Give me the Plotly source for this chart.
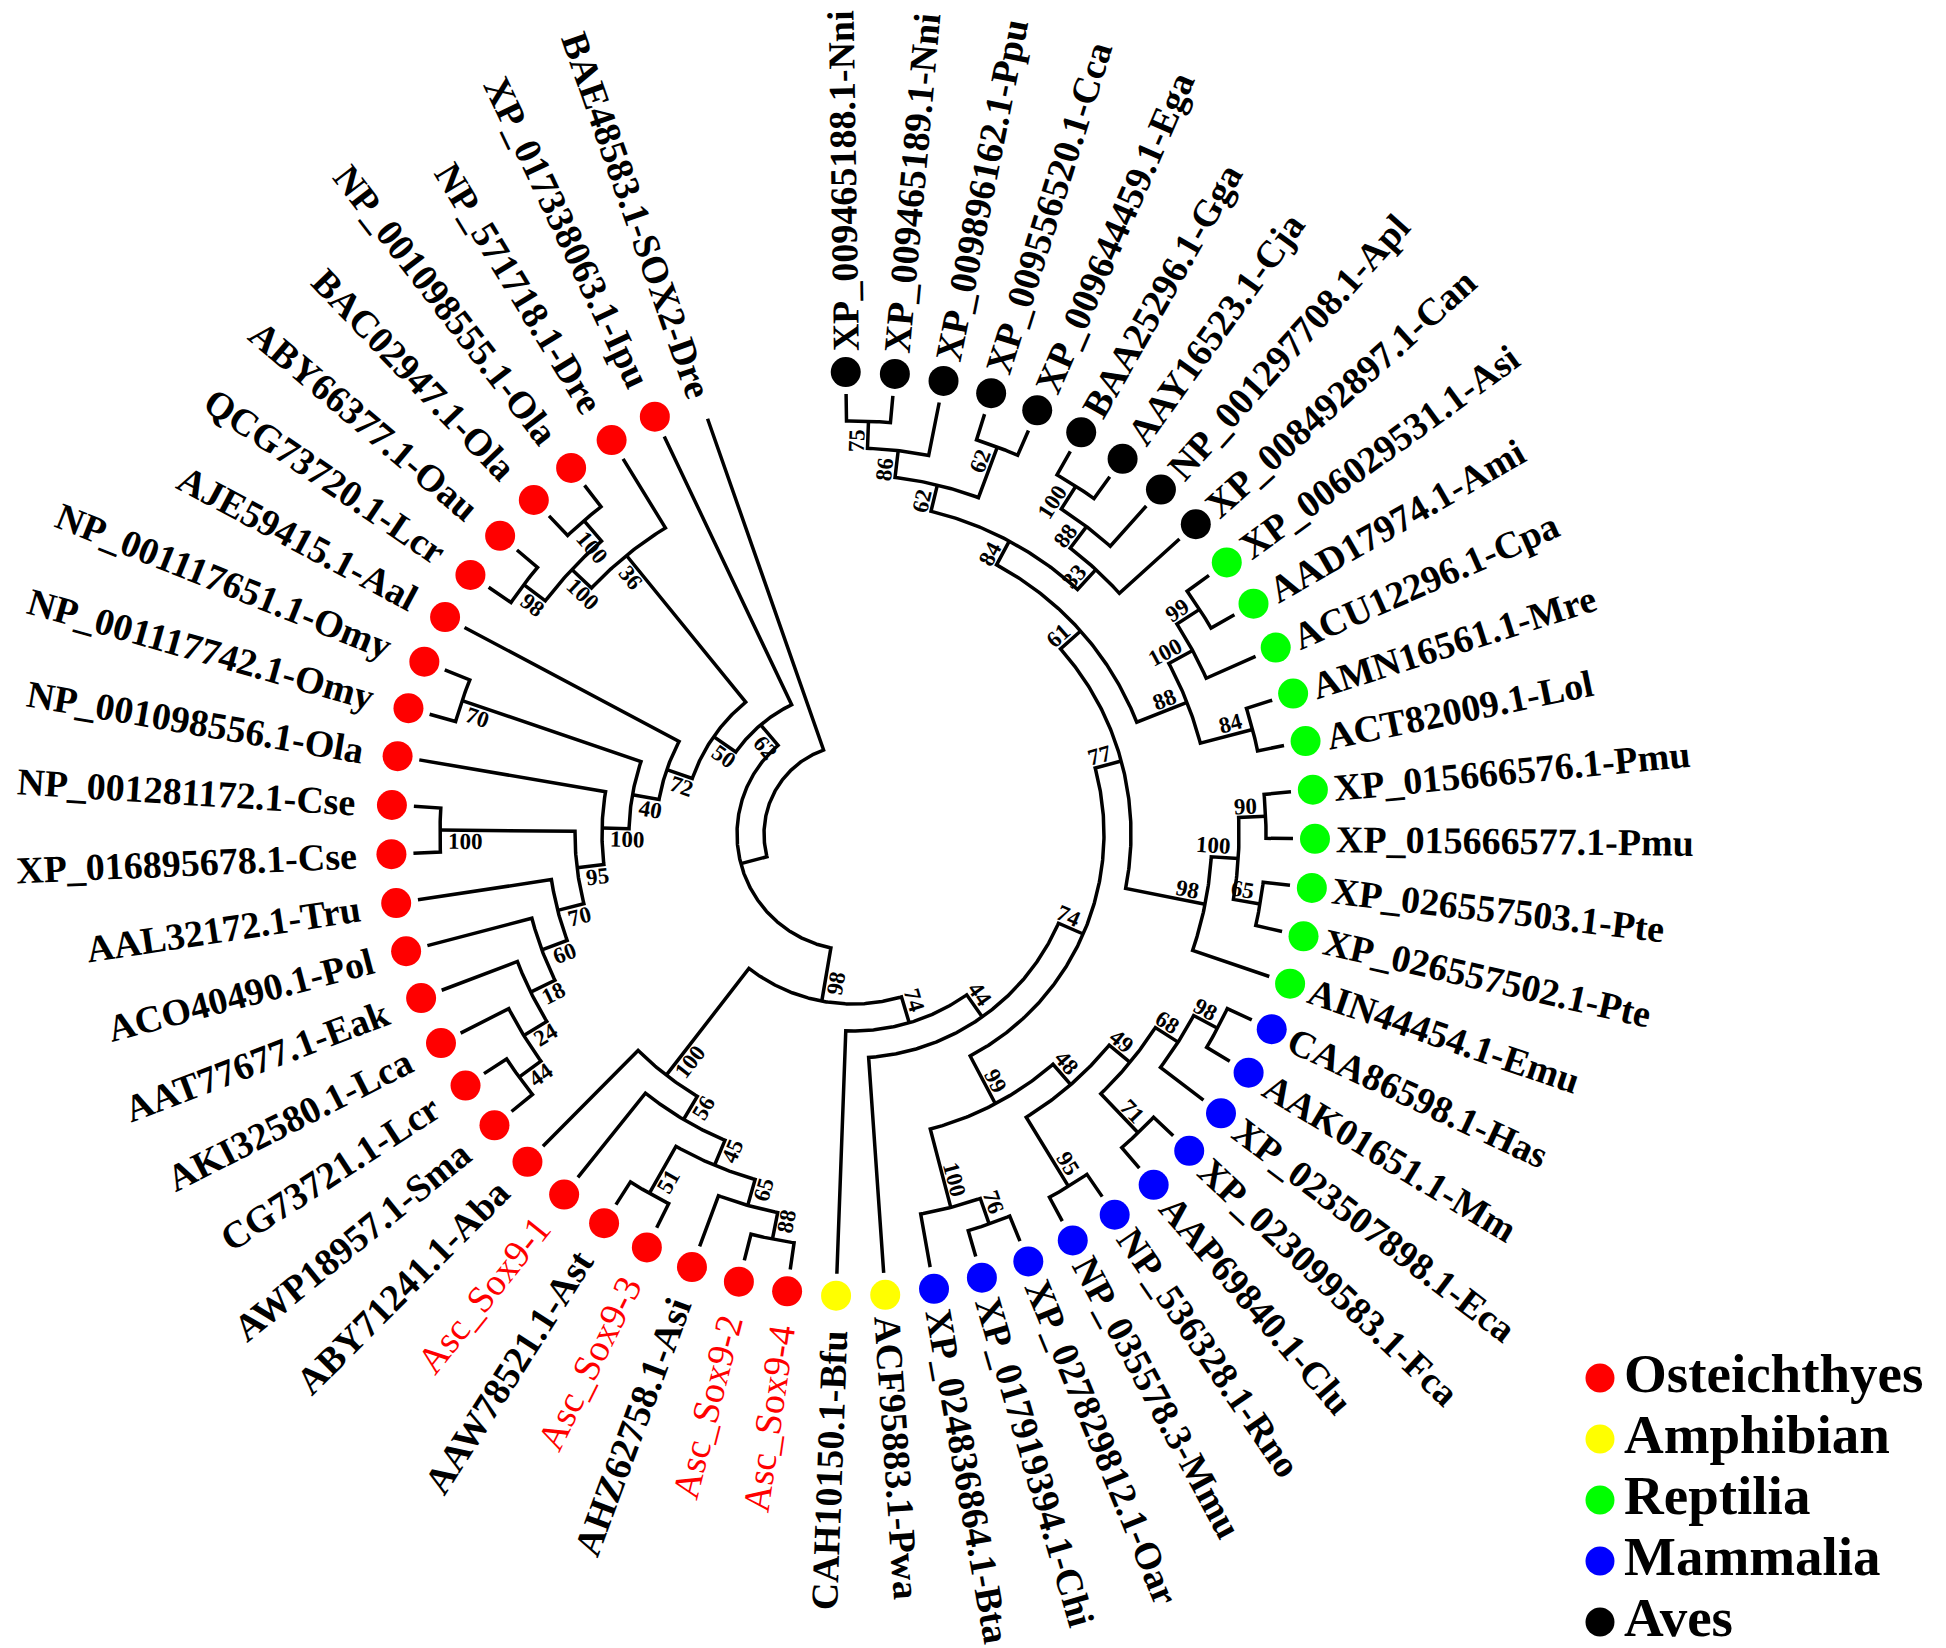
import math
import plotly.graph_objects as go

# ---------------- data ----------------
aves = ["XP_009465188.1-Nni", "XP_009465189.1-Nni", "XP_009896162.1-Ppu",
        "XP_009556520.1-Cca", "XP_009644459.1-Ega", "BAA25296.1-Gga",
        "AAY16523.1-Cja", "NP_001297708.1-Apl", "XP_008492897.1-Can"]
reptilia = ["XP_006029531.1-Asi", "AAD17974.1-Ami", "ACU12296.1-Cpa",
            "AMN16561.1-Mre", "ACT82009.1-Lol", "XP_015666576.1-Pmu",
            "XP_015666577.1-Pmu", "XP_026557503.1-Pte", "XP_026557502.1-Pte",
            "AIN44454.1-Emu"]
mammalia = ["CAA86598.1-Has", "AAK01651.1-Mm", "XP_023507898.1-Eca",
            "XP_023099583.1-Fca", "AAP69840.1-Clu", "NP_536328.1-Rno",
            "NP_035578.3-Mmu", "XP_027829812.1-Oar", "XP_017919394.1-Chi",
            "XP_024836864.1-Bta"]
amphibian = ["ACF95883.1-Pwa", "CAH10150.1-Bfu"]
osteichthyes = ["Asc_Sox9-4", "Asc_Sox9-2", "AHZ62758.1-Asi", "Asc_Sox9-3",
                "AAW78521.1-Ast", "Asc_Sox9-1", "ABY71241.1-Aba",
                "AWP18957.1-Sma", "CG73721.1-Lcr", "AKI32580.1-Lca",
                "AAT77677.1-Eak", "ACO40490.1-Pol", "AAL32172.1-Tru",
                "XP_016895678.1-Cse", "NP_001281172.1-Cse",
                "NP_001098556.1-Ola", "NP_001117742.1-Omy",
                "NP_001117651.1-Omy", "AJE59415.1-Aal", "QCG73720.1-Lcr",
                "ABY66377.1-Oau", "BAC02947.1-Ola", "NP_001098555.1-Ola",
                "NP_571718.1-Dre", "XP_017338063.1-Ipu"]
outgroup = ["BAE48583.1-SOX2-Dre"]
study_genes = ["Asc_Sox9-1", "Asc_Sox9-2", "Asc_Sox9-3", "Asc_Sox9-4"]

# internal nodes: (node, first child, second child, bootstrap)
aves_nodes = [
    ("A75", "XP_009465188.1-Nni", "XP_009465189.1-Nni", 75),
    ("A86", "A75", "XP_009896162.1-Ppu", 86),
    ("A62b", "XP_009556520.1-Cca", "XP_009644459.1-Ega", 62),
    ("A62", "A86", "A62b", 62),
    ("A100", "BAA25296.1-Gga", "AAY16523.1-Cja", 100),
    ("A88", "A100", "NP_001297708.1-Apl", 88),
    ("A33", "A88", "XP_008492897.1-Can", 33),
    ("A84", "A62", "A33", 84),
]
reptile_nodes = [
    ("R99", "XP_006029531.1-Asi", "AAD17974.1-Ami", 99),
    ("R100", "R99", "ACU12296.1-Cpa", 100),
    ("R84", "AMN16561.1-Mre", "ACT82009.1-Lol", 84),
    ("R88", "R100", "R84", 88),
    ("R90", "XP_015666576.1-Pmu", "XP_015666577.1-Pmu", 90),
    ("R65", "XP_026557503.1-Pte", "XP_026557502.1-Pte", 65),
    ("R100b", "R90", "R65", 100),
    ("R98", "R100b", "AIN44454.1-Emu", 98),
]
mammal_nodes = [
    ("M98", "CAA86598.1-Has", "AAK01651.1-Mm", 98),
    ("M68", "M98", "XP_023507898.1-Eca", 68),
    ("M71", "XP_023099583.1-Fca", "AAP69840.1-Clu", 71),
    ("M49", "M68", "M71", 49),
    ("M95", "NP_536328.1-Rno", "NP_035578.3-Mmu", 95),
    ("M48", "M49", "M95", 48),
    ("M76", "XP_027829812.1-Oar", "XP_017919394.1-Chi", 76),
    ("M100", "M76", "XP_024836864.1-Bta", 100),
    ("M99", "M48", "M100", 99),
]
fish_nodes = [
    ("F88", "Asc_Sox9-4", "Asc_Sox9-2", 88),
    ("F65", "F88", "AHZ62758.1-Asi", 65),
    ("F51", "Asc_Sox9-3", "AAW78521.1-Ast", 51),
    ("F45", "F65", "F51", 45),
    ("F56", "F45", "Asc_Sox9-1", 56),
    ("F100", "F56", "ABY71241.1-Aba", 100),
    ("F44", "AWP18957.1-Sma", "CG73721.1-Lcr", 44),
    ("F24", "F44", "AKI32580.1-Lca", 24),
    ("F18", "F24", "AAT77677.1-Eak", 18),
    ("F60", "F18", "ACO40490.1-Pol", 60),
    ("F70", "F60", "AAL32172.1-Tru", 70),
    ("F100b", "XP_016895678.1-Cse", "NP_001281172.1-Cse", 100),
    ("F95", "F70", "F100b", 95),
    ("F100c", "F95", "NP_001098556.1-Ola", 100),
    ("F70b", "NP_001117742.1-Omy", "NP_001117651.1-Omy", 70),
    ("F40", "F100c", "F70b", 40),
    ("F72", "F40", "AJE59415.1-Aal", 72),
    ("F98", "QCG73720.1-Lcr", "ABY66377.1-Oau", 98),
    ("F100d", "BAC02947.1-Ola", "NP_001098555.1-Ola", 100),
    ("F100e", "F98", "F100d", 100),
    ("F36", "F100e", "NP_571718.1-Dre", 36),
    ("F50", "F72", "F36", 50),
    ("F62", "F50", "XP_017338063.1-Ipu", 62),
]
backbone_nodes = [
    ("B61", "A84", "R88", 61),
    ("B77", "B61", "R98", 77),
    ("B74", "B77", "M99", 74),
    ("B44", "B74", "ACF95883.1-Pwa", 44),
    ("B74b", "B44", "CAH10150.1-Bfu", 74),
    ("B98", "B74b", "F100", 98),
    ("IN", "B98", "F62", None),
    ("ROOT", "IN", "BAE48583.1-SOX2-Dre", None),
]

legend_names = ["Osteichthyes", "Amphibian", "Reptilia", "Mammalia", "Aves"]
legend_colors = ["#ff0000", "#ffff00", "#00ff00", "#0000ff", "#000000"]
group_members = [osteichthyes, amphibian, reptilia, mammalia, aves]

# ---------------- layout constants ----------------
W, H = 1946, 1648
CX, CY = 845, 826            # tree centre in page pixels
START_DEG, STEP_DEG = -0.9, 6.1
R_TIP, LEVEL = 440.0, 27.0
R_DOT = 462.0
FONT = "Liberation Serif"
LEAF_SIZE = 38
BOOT_SIZE = 23
LINE_W = 3.5
DOT_SIZE = 30
LEG_FONT = 55
LEG_ROW = 61

_TB = dict(zip("ABCDEFGHIJKLMNOPQRSTUVWXYZ",
               [722, 667, 722, 722, 667, 611, 778, 778, 389, 500, 778, 667, 944,
                722, 778, 611, 778, 722, 556, 667, 722, 722, 1000, 722, 722, 667]))
_TB.update(zip("abcdefghijklmnopqrstuvwxyz",
               [500, 556, 444, 556, 444, 333, 500, 556, 278, 333, 556, 278, 833,
                556, 500, 556, 556, 444, 389, 333, 556, 500, 722, 500, 500, 444]))
_TR = dict(zip("ABCDEFGHIJKLMNOPQRSTUVWXYZ",
               [722, 667, 667, 722, 611, 556, 722, 722, 333, 389, 722, 611, 889,
                722, 722, 556, 722, 667, 556, 611, 722, 722, 944, 722, 722, 611]))
_TR.update(zip("abcdefghijklmnopqrstuvwxyz",
               [444, 500, 444, 500, 444, 333, 500, 500, 278, 278, 500, 278, 778,
                500, 500, 500, 500, 333, 389, 278, 500, 500, 722, 500, 500, 444]))
for t in (_TB, _TR):
    t.update({c: 500 for c in "0123456789"})
    t.update({".": 250, "-": 333, "_": 500, " ": 250})


def text_w(s, size, bold=True):
    tbl = _TB if bold else _TR
    return sum(tbl.get(c, 500) for c in s) * size / 1000.0


# ---------------- tree layout ----------------
nodes = {}
for lst in (aves_nodes, reptile_nodes, mammal_nodes, fish_nodes, backbone_nodes):
    for n, a, b, s in lst:
        nodes[n] = (a, b, s)

order = []


def dfs(n):
    if n in nodes:
        a, b, _ = nodes[n]
        dfs(a)
        dfs(b)
    else:
        order.append(n)


dfs("ROOT")
ang, hgt = {}, {}
for i, leaf in enumerate(order):
    ang[leaf] = START_DEG + i * STEP_DEG
    hgt[leaf] = 0


def place(n):
    if n in hgt:
        return
    a, b, _ = nodes[n]
    place(a)
    place(b)
    hgt[n] = 1 + max(hgt[a], hgt[b])
    ang[n] = (ang[a] + ang[b]) / 2.0


place("ROOT")


def rad(n):
    return R_TIP - LEVEL * hgt[n]


def pol(r, t):
    tr = math.radians(t)
    return r * math.sin(tr), r * math.cos(tr)


bx, by = [], []
for n, (a, b, s) in nodes.items():
    r = rad(n)
    ta, tb = ang[a], ang[b]
    pts = [pol(rad(a), ta)]
    k = max(2, int(abs(tb - ta) / 0.4) + 1)
    for j in range(k + 1):
        pts.append(pol(r, ta + (tb - ta) * j / k))
    pts.append(pol(rad(b), tb))
    for x, y in pts:
        bx.append(x)
        by.append(y)
    bx.append(None)
    by.append(None)

fig = go.Figure()
fig.add_trace(go.Scatter(x=bx, y=by, mode="lines",
                         line=dict(color="black", width=LINE_W),
                         hoverinfo="skip", showlegend=False))

for name, col, members in zip(legend_names, legend_colors, group_members):
    xs, ys = [], []
    for leaf in members:
        x, y = pol(R_DOT, ang[leaf])
        xs.append(x)
        ys.append(y)
    fig.add_trace(go.Scatter(x=xs, y=ys, mode="markers", name=name,
                             marker=dict(size=DOT_SIZE, color=col, line=dict(width=0)),
                             hoverinfo="skip", showlegend=False))

annotations = []
for leaf in order:
    t = ang[leaf]
    study = leaf in study_genes
    w = text_w(leaf, LEAF_SIZE, bold=not study)
    if t < 180:
        rc = R_DOT + 21 + w / 2.0
        ta = t - 90
    else:
        gap = 1 if leaf in outgroup else 35
        rc = R_DOT + gap + w / 2.0
        ta = t - 270
    x, y = pol(rc, t)
    annotations.append(dict(
        x=x, y=y, xref="x", yref="y", text=leaf, showarrow=False,
        textangle=ta, xanchor="center", yanchor="middle",
        font=dict(family=FONT, size=LEAF_SIZE,
                  color="#ff0000" if study else "#000000",
                  weight="normal" if study else "bold")))

for n, (a, b, s) in nodes.items():
    if s is None:
        continue
    t = ang[n]
    lab = str(s)
    w = text_w(lab, BOOT_SIZE)
    rc = rad(n) - 8 - w / 2.0
    tl = t - math.degrees(11.0 / rc)
    x, y = pol(rc, tl)
    annotations.append(dict(
        x=x, y=y, xref="x", yref="y", text=lab, showarrow=False,
        textangle=(t - 90) if t < 180 else (t - 270),
        xanchor="center", yanchor="middle",
        font=dict(family=FONT, size=BOOT_SIZE, color="#000000", weight="bold")))

# ---------------- legend (own small axes) ----------------
fig.add_trace(go.Scatter(x=[0] * len(legend_names), y=legend_names, mode="markers",
                         marker=dict(size=29, color=legend_colors, line=dict(width=0)),
                         xaxis="x2", yaxis="y2", hoverinfo="skip", showlegend=False))
fig.add_trace(go.Scatter(x=[24] * len(legend_names), y=legend_names, mode="text",
                         text=legend_names, textposition="middle right",
                         textfont=dict(family=FONT, size=LEG_FONT, color="#000000",
                                       weight="bold"),
                         xaxis="x2", yaxis="y2", hoverinfo="skip", showlegend=False))

leg_mid = 1492
leg_half = LEG_ROW * len(legend_names) / 2.0
fig.update_layout(
    width=W, height=H, autosize=False,
    margin=dict(l=0, r=0, t=0, b=0, pad=0),
    paper_bgcolor="white", plot_bgcolor="white",
    showlegend=False,
    xaxis=dict(range=[-CX, W - CX], visible=False, fixedrange=True),
    yaxis=dict(range=[-(H - CY), CY], visible=False, fixedrange=True),
    xaxis2=dict(domain=[1560 / W, 1.0], range=[-32, 354], visible=False,
                fixedrange=True, anchor="y2"),
    yaxis2=dict(domain=[(H - leg_mid - leg_half) / H, (H - leg_mid + leg_half) / H],
                type="category", categoryorder="array",
                categoryarray=legend_names[::-1],
                range=[-0.5, len(legend_names) - 0.5], visible=False,
                fixedrange=True, anchor="x2"),
    annotations=annotations,
)

fig.write_html("out.html", config={"displayModeBar": False})
